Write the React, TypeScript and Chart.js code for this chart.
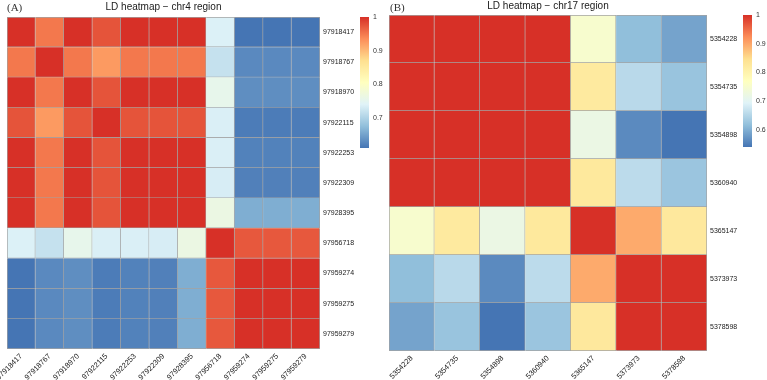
import React, { useEffect, useRef } from "react";
import { Chart, registerables } from "chart.js";

Chart.register(...registerables);

// ---- chr4 region: SNP positions and pairwise LD (r²) ----
const chr4Snps = [
  "97918417", "97918767", "97918970", "97922115", "97922253", "97922309",
  "97928395", "97956718", "97959274", "97959275", "97959279",
];
const chr4Ld = [
  [1.0, 0.95, 1.0, 0.975, 1.0, 1.0, 1.0, 0.737, 0.61, 0.61, 0.61],
  [0.95, 1.0, 0.95, 0.925, 0.95, 0.95, 0.95, 0.718, 0.628, 0.628, 0.628],
  [1.0, 0.95, 1.0, 0.975, 1.0, 1.0, 1.0, 0.755, 0.632, 0.632, 0.632],
  [0.975, 0.925, 0.975, 1.0, 0.975, 0.975, 0.975, 0.735, 0.616, 0.616, 0.616],
  [1.0, 0.95, 1.0, 0.975, 1.0, 1.0, 1.0, 0.735, 0.621, 0.621, 0.621],
  [1.0, 0.95, 1.0, 0.975, 1.0, 1.0, 1.0, 0.733, 0.62, 0.62, 0.62],
  [1.0, 0.95, 1.0, 0.975, 1.0, 1.0, 1.0, 0.764, 0.66, 0.66, 0.66],
  [0.737, 0.718, 0.755, 0.735, 0.735, 0.733, 0.764, 1.0, 0.972, 0.972, 0.972],
  [0.61, 0.628, 0.632, 0.616, 0.621, 0.62, 0.66, 0.972, 1.0, 1.0, 1.0],
  [0.61, 0.628, 0.632, 0.616, 0.621, 0.62, 0.66, 0.972, 1.0, 1.0, 1.0],
  [0.61, 0.628, 0.632, 0.616, 0.621, 0.62, 0.66, 0.972, 1.0, 1.0, 1.0],
];
const chr4LegendTicks = [0.7, 0.8, 0.9, 1];

// ---- chr17 region ----
const chr17Snps = ["5354228", "5354735", "5354898", "5360940", "5365147", "5373973", "5378598"];
const chr17Ld = [
  [1, 1, 1, 1, 0.75, 0.617, 0.588],
  [1, 1, 1, 1, 0.822, 0.655, 0.624],
  [1, 1, 1, 1, 0.72, 0.562, 0.54],
  [1, 1, 1, 1, 0.825, 0.658, 0.626],
  [0.75, 0.822, 0.72, 0.825, 1, 0.897, 0.826],
  [0.617, 0.655, 0.562, 0.658, 0.897, 1, 1],
  [0.588, 0.624, 0.54, 0.626, 0.826, 1, 1],
];
const chr17LegendTicks = [0.6, 0.7, 0.8, 0.9, 1];

// reversed RdYlBu, low LD -> blue, high LD -> red
const ldPalette = ["#4575B4", "#91BFDB", "#E0F3F8", "#FFFFBF", "#FEE090", "#FC8D59", "#D73027"];

const FONT = "'Liberation Sans', Arial, Helvetica, sans-serif";
const TEXT = "#1a1a1a";
const GRID = "#a3a3a3";

function hexToRgb(h: string): number[] {
  const n = parseInt(h.slice(1), 16);
  return [(n >> 16) & 255, (n >> 8) & 255, n & 255];
}

function ldColor(v: number, lo: number, hi: number): string {
  const t = Math.min(1, Math.max(0, (v - lo) / (hi - lo)));
  const pos = t * (ldPalette.length - 1);
  const i = Math.min(ldPalette.length - 2, Math.floor(pos));
  const f = pos - i;
  const a = hexToRgb(ldPalette[i]);
  const b = hexToRgb(ldPalette[i + 1]);
  const c = a.map((x, k) => Math.round(x + (b[k] - x) * f));
  return `rgb(${c[0]},${c[1]},${c[2]})`;
}

type Box = { left: number; top: number; width: number; height: number };

type HeatmapProps = {
  snps: string[];
  ld: number[][];
  title: string;
  box: Box;
  padLeft: number;
  yWidth: number;
  xHeight: number;
  titlePad: { top: number; bottom: number };
};

function LdHeatmap({ snps, ld, title, box, padLeft, yWidth, xHeight, titlePad }: HeatmapProps) {
  const ref = useRef<HTMLCanvasElement | null>(null);
  useEffect(() => {
    if (!ref.current) return;
    const n = snps.length;
    const lo = Math.min(...ld.flat());
    // one stacked dataset per row; the first dataset sits at the bottom
    const datasets = snps.map((_, k) => {
      const r = n - 1 - k;
      return {
        label: snps[r],
        data: snps.map(() => 1),
        backgroundColor: ld[r].map((v) => ldColor(v, lo, 1)),
        borderColor: GRID,
        borderSkipped: false as const,
        borderWidth: (ctx: any) => ({
          top: r === 0 ? 1 : 0,
          left: ctx.dataIndex === 0 ? 1 : 0,
          right: 1,
          bottom: 1,
        }),
        barPercentage: 1,
        categoryPercentage: 1,
      };
    });
    const chart = new Chart(ref.current, {
      type: "bar",
      data: { labels: snps, datasets },
      options: {
        responsive: false,
        animation: false,
        events: [],
        layout: { padding: { left: padLeft, top: 0, right: 0, bottom: 0 } },
        plugins: {
          legend: { display: false },
          tooltip: { enabled: false },
          title: {
            display: true,
            text: title,
            fullSize: false,
            color: TEXT,
            font: { family: FONT, size: 10, weight: "normal" },
            padding: titlePad,
          },
        },
        scales: {
          x: {
            type: "category",
            stacked: true,
            grid: { display: false, drawTicks: false },
            border: { display: false },
            ticks: {
              autoSkip: false,
              maxRotation: 45,
              minRotation: 45,
              padding: 3,
              color: TEXT,
              font: { family: FONT, size: 7.5 },
            },
            afterFit: (s: any) => {
              s.height = xHeight;
              s.paddingLeft = 0;
              s.paddingRight = 0;
            },
          },
          y: {
            type: "linear",
            stacked: true,
            min: 0,
            max: n,
            position: "right",
            grid: { display: false, drawTicks: false },
            border: { display: false },
            afterBuildTicks: (s: any) => {
              s.ticks = snps.map((_, i) => ({ value: i + 0.5 }));
            },
            ticks: {
              padding: 3,
              color: TEXT,
              font: { family: FONT, size: 7 },
              callback: (_v: any, i: number) => snps[n - 1 - i],
            },
            afterFit: (s: any) => {
              s.width = yWidth;
              s.paddingTop = 0;
              s.paddingBottom = 0;
            },
          },
        },
      },
    } as any);
    return () => chart.destroy();
  }, []);
  return (
    <canvas
      ref={ref}
      width={box.width}
      height={box.height}
      style={{ position: "absolute", left: box.left, top: box.top, width: box.width, height: box.height }}
    />
  );
}

type ColorBarProps = {
  ld: number[][];
  ticks: number[];
  box: Box;
  barWidth: number;
  padLeft: number;
  padTop: number;
  padBottom: number;
};

function LdColorBar({ ld, ticks, box, barWidth, padLeft, padTop, padBottom }: ColorBarProps) {
  const ref = useRef<HTMLCanvasElement | null>(null);
  useEffect(() => {
    if (!ref.current) return;
    const lo = Math.min(...ld.flat());
    const chart = new Chart(ref.current, {
      type: "bar",
      data: {
        labels: [""],
        datasets: [
          {
            data: [[lo, 1]],
            borderWidth: 0,
            barPercentage: 1,
            categoryPercentage: 1,
            backgroundColor: (ctx: any) => {
              const area = ctx.chart.chartArea;
              if (!area) return ldPalette[0];
              const g = ctx.chart.ctx.createLinearGradient(0, area.bottom, 0, area.top);
              ldPalette.forEach((c, i) => g.addColorStop(i / (ldPalette.length - 1), c));
              return g;
            },
          },
        ],
      },
      options: {
        responsive: false,
        animation: false,
        events: [],
        layout: { padding: { left: padLeft, top: padTop, bottom: padBottom, right: 0 } },
        plugins: { legend: { display: false }, tooltip: { enabled: false } },
        scales: {
          x: { display: false },
          y: {
            type: "linear",
            min: lo,
            max: 1,
            position: "right",
            grid: { display: false, drawTicks: false },
            border: { display: false },
            afterBuildTicks: (s: any) => {
              s.ticks = ticks.map((v) => ({ value: v }));
            },
            ticks: {
              padding: 4,
              color: "#333",
              font: { family: FONT, size: 7 },
              callback: (v: any) => String(v),
            },
            afterFit: (s: any) => {
              s.width = box.width - padLeft - barWidth;
              s.paddingTop = 0;
              s.paddingBottom = 0;
            },
          },
        },
      },
    } as any);
    return () => chart.destroy();
  }, []);
  return (
    <canvas
      ref={ref}
      width={box.width}
      height={box.height}
      style={{ position: "absolute", left: box.left, top: box.top, width: box.width, height: box.height }}
    />
  );
}

const panelTag: React.CSSProperties = {
  position: "absolute",
  top: 1,
  fontFamily: "'Liberation Serif', 'DejaVu Serif', serif",
  fontSize: 11,
  color: "#333",
  lineHeight: "13px",
};

export default function App() {
  return (
    <div
      style={{
        position: "fixed",
        left: 0,
        top: 0,
        width: 767,
        height: 380,
        background: "#fff",
        overflow: "hidden",
      }}
    >
      <LdHeatmap
        snps={chr4Snps}
        ld={chr4Ld}
        title="LD heatmap − chr4 region"
        box={{ left: 0, top: 0, width: 358, height: 380 }}
        padLeft={7}
        yWidth={38}
        xHeight={31}
        titlePad={{ top: 1, bottom: 4 }}
      />
      <LdColorBar
        ld={chr4Ld}
        ticks={chr4LegendTicks}
        box={{ left: 355, top: 0, width: 32, height: 160 }}
        barWidth={9}
        padLeft={5}
        padTop={17}
        padBottom={12}
      />
      <LdHeatmap
        snps={chr17Snps}
        ld={chr17Ld}
        title="LD heatmap − chr17 region"
        box={{ left: 384, top: 0, width: 357, height: 380 }}
        padLeft={5}
        yWidth={34}
        xHeight={29}
        titlePad={{ top: 0, bottom: 3 }}
      />
      <LdColorBar
        ld={chr17Ld}
        ticks={chr17LegendTicks}
        box={{ left: 738, top: 0, width: 29, height: 160 }}
        barWidth={9}
        padLeft={5}
        padTop={15}
        padBottom={13}
      />
      <span style={{ ...panelTag, left: 7 }}>(A)</span>
      <span style={{ ...panelTag, left: 390 }}>(B)</span>
    </div>
  );
}
